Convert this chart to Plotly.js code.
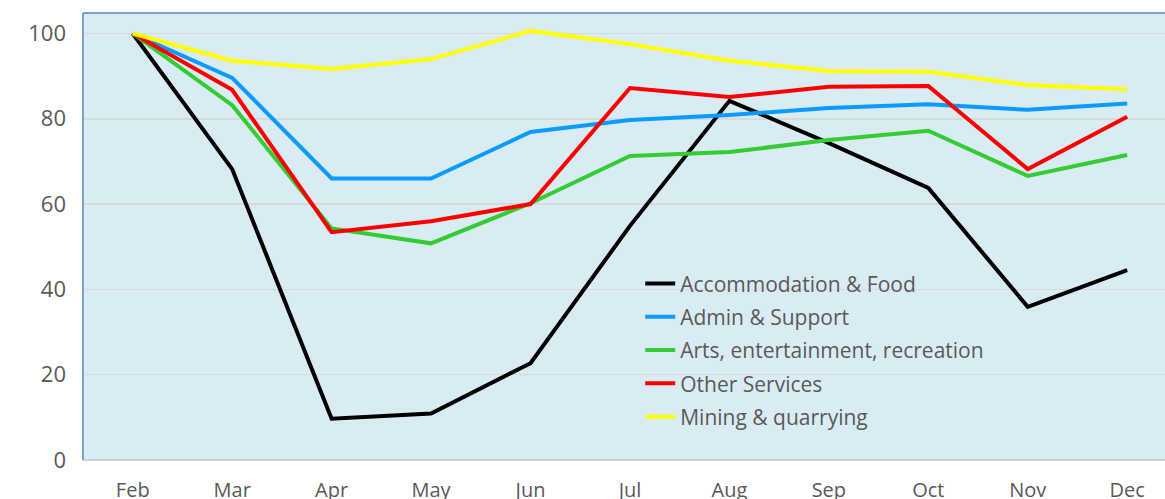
<!DOCTYPE html>
<html>
<head>
<meta charset="utf-8">
<script src="https://cdn.plot.ly/plotly-3.0.1.min.js"></script>
<style>html,body{margin:0;padding:0;background:#fff;}#chart{width:1165px;height:499px;}</style>
</head>
<body>
<div id="chart"></div>
<script>
const months = ["Feb","Mar","Apr","May","Jun","Jul","Aug","Sep","Oct","Nov","Dec"];
const accommodationFood = [100, 68.2, 9.7, 10.9, 22.7, 54.9, 84.2, 74.3, 63.8, 35.9, 44.5];
const adminSupport = [100, 89.6, 66.0, 66.0, 76.9, 79.7, 80.9, 82.5, 83.4, 82.1, 83.6];
const artsEntertainment = [100, 83.2, 54.3, 50.8, 60.2, 71.3, 72.2, 75.0, 77.2, 66.6, 71.5];
const otherServices = [100, 86.8, 53.4, 56.0, 60.0, 87.2, 85.1, 87.5, 87.7, 68.2, 80.5];
const miningQuarrying = [100, 93.6, 91.7, 94.0, 100.6, 97.5, 93.6, 91.2, 91.0, 87.9, 86.9];
const seriesNames = ["Accommodation & Food","Admin & Support","Arts, entertainment, recreation","Other Services","Mining & quarrying"];
const seriesColors = ["#000000","#0B9BFF","#33CC33","#FF0000","#FFFF00"];
const yTicks = [0,20,40,60,80,100];

const allSeries = [accommodationFood, adminSupport, artsEntertainment, otherServices, miningQuarrying];
const traces = allSeries.map((vals, i) => ({
  x: months.map((m, j) => j),
  y: vals,
  type: "scatter",
  mode: "lines",
  name: seriesNames[i],
  legendgroup: "g" + i,
  line: {color: seriesColors[i], width: 4}
}));

const layout = {
  width: 1165, height: 499,
  margin: {l: 83, r: 0, t: 13, b: 39},
  paper_bgcolor: "#ffffff",
  plot_bgcolor: "#DAECF3",
  font: {family: "'Open Sans', 'Liberation Sans', sans-serif", color: "#595959"},
  showlegend: true,
  legend: {
    x: 0.515, y: 0.44, xanchor: "left", yanchor: "top",
    bgcolor: "rgba(0,0,0,0)",
    font: {size: 21, color: "#595959", family: "'Open Sans', 'Liberation Sans', sans-serif"},
    itemwidth: 30,
    tracegroupgap: 3
  },
  xaxis: {
    range: [-0.5, 10.38],
    tickmode: "array",
    tickvals: months.map((m, j) => j),
    ticktext: months,
    showgrid: false,
    zeroline: false,
    showline: false,
    ticks: "",
    tickfont: {size: 20, color: "#595959"},
    ticklabelstandoff: 16,
    fixedrange: true
  },
  yaxis: {
    range: [0, 104.8],
    tickmode: "array",
    tickvals: yTicks,
    ticktext: yTicks.map(String),
    showgrid: true,
    gridcolor: "#D9D9D9",
    gridwidth: 1.5,
    zeroline: true,
    zerolinecolor: "#D0D0D0",
    zerolinewidth: 2,
    showline: false,
    ticks: "",
    tickfont: {size: 22, color: "#595959"},
    ticklabelstandoff: 16,
    fixedrange: true
  },
  shapes: [
    {type: "line", xref: "paper", yref: "paper", x0: 0, x1: 1, y0: 1, y1: 1, line: {color: "#7F9FCF", width: 2}},
    {type: "line", xref: "paper", yref: "paper", x0: 0, x1: 0, y0: 0, y1: 1, line: {color: "#7F9FCF", width: 2}}
  ]
};

Plotly.newPlot("chart", traces, layout, {displayModeBar: false, staticPlot: true});
</script>
</body>
</html>
